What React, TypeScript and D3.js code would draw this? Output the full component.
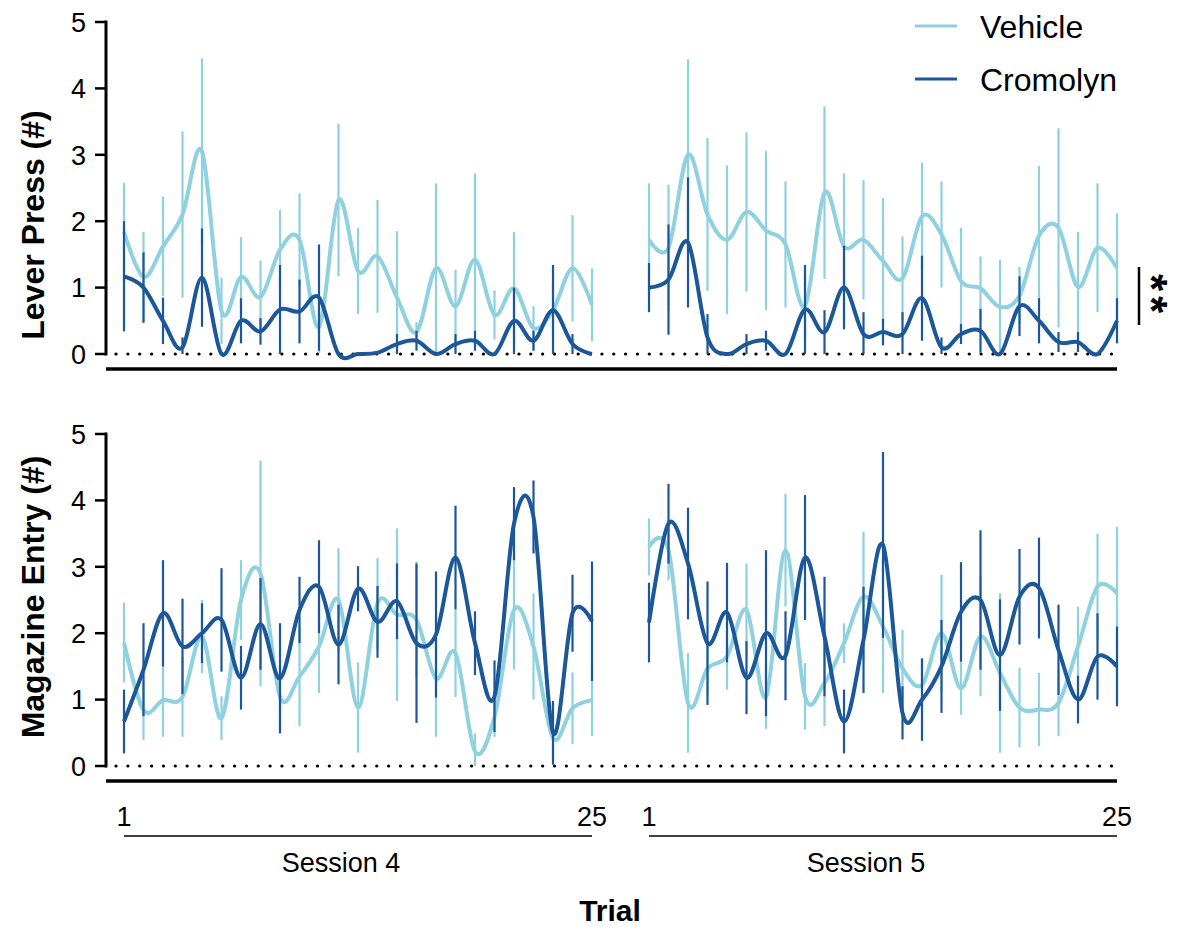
import React from 'react';
import * as d3 from 'd3';

const width = 1180;
const height = 927;

const trials = d3.range(1, 26);
const sessionNames = ['Session 4', 'Session 5'];
const yTicks = [0, 1, 2, 3, 4, 5];
const seriesNames = ['Vehicle', 'Cromolyn'];
const colors = ['#8fd1df', '#1b5799'];

// Lever press, session 4 / session 5 (mean, sem)
const leverVehS4 = [1.84, 1.16, 1.62, 2.1, 3.05, 0.65, 1.16, 0.86, 1.57, 1.72, 0.41, 2.32, 1.25, 1.47, 0.85, 0.33, 1.29, 0.72, 1.42, 0.59, 0.99, 0.39, 0.66, 1.29, 0.74];
const leverVehS4Sem = [0.74, 0.68, 0.75, 1.25, 1.4, 0.5, 0.6, 0.55, 0.6, 0.7, 0.4, 1.15, 0.65, 0.85, 1.0, 0.15, 1.28, 0.55, 1.3, 0.37, 0.85, 0.33, 0.4, 0.8, 0.55];
const leverCroS4 = [1.17, 1.0, 0.5, 0.1, 1.15, 0.0, 0.5, 0.34, 0.67, 0.64, 0.85, 0.0, 0.0, 0.02, 0.15, 0.2, 0.0, 0.15, 0.2, 0.0, 0.5, 0.2, 0.66, 0.15, 0.0];
const leverCroS4Sem = [0.83, 0.53, 0.35, 0.15, 0.74, 0, 0.34, 0.2, 0.67, 0.48, 0.8, 0, 0, 0, 0.15, 0.15, 0, 0.15, 0.15, 0, 0.5, 0.15, 0.68, 0.15, 0];
const leverVehS5 = [1.72, 1.6, 3.0, 2.1, 1.72, 2.14, 1.86, 1.65, 0.72, 2.43, 1.62, 1.72, 1.4, 1.14, 2.07, 1.8, 1.1, 0.99, 0.71, 0.88, 1.78, 1.9, 1.01, 1.6, 1.29];
const leverVehS5Sem = [0.85, 0.95, 1.44, 1.15, 1.12, 1.2, 1.2, 0.95, 0.5, 1.3, 1.1, 0.9, 0.95, 0.63, 0.81, 0.8, 0.8, 0.48, 0.71, 0.43, 1.05, 1.5, 0.83, 0.97, 0.83];
const leverCroS5 = [1.0, 1.12, 1.68, 0.25, 0.0, 0.15, 0.2, 0.0, 0.67, 0.33, 1.0, 0.3, 0.33, 0.3, 0.84, 0.1, 0.3, 0.35, 0.0, 0.72, 0.5, 0.18, 0.18, 0.0, 0.5];
const leverCroS5Sem = [0.37, 0.83, 0.98, 0.35, 0, 0.15, 0.15, 0, 0.67, 0.33, 0.63, 0.33, 0.2, 0.33, 0.64, 0.15, 0.15, 0.33, 0, 0.45, 0.34, 0.15, 0.15, 0, 0.34];

// Magazine entry
const magVehS4 = [1.86, 0.84, 0.99, 1.04, 1.95, 0.72, 2.5, 2.9, 1.04, 1.35, 1.8, 2.5, 0.88, 2.45, 2.28, 2.2, 1.32, 1.7, 0.22, 0.74, 2.35, 1.8, 0.42, 0.87, 0.99];
const magVehS4Sem = [0.6, 0.45, 0.55, 0.6, 0.55, 0.33, 0.6, 1.7, 0.5, 0.75, 0.7, 0.78, 0.68, 0.68, 1.3, 0.88, 0.88, 0.66, 0.27, 0.3, 0.9, 0.8, 0.3, 0.54, 0.54];
const magCroS4 = [0.67, 1.45, 2.3, 1.8, 2.0, 2.2, 1.33, 2.14, 1.32, 2.35, 2.7, 1.83, 2.67, 2.17, 2.48, 1.85, 1.98, 3.14, 1.85, 1.05, 3.65, 3.75, 0.5, 2.3, 2.18];
const magCroS4Sem = [0.48, 0.7, 0.8, 0.72, 0.45, 0.78, 0.48, 0.69, 0.83, 0.5, 0.7, 0.6, 0.34, 0.54, 0.57, 1.2, 0.95, 0.78, 0.48, 0.54, 0.55, 0.55, 0.48, 0.58, 0.9];
const magVehS5 = [3.3, 3.25, 0.95, 1.47, 1.65, 2.35, 1.04, 3.25, 1.05, 1.25, 1.85, 2.55, 2.1, 1.47, 1.22, 2.0, 1.17, 1.95, 1.4, 0.88, 0.85, 0.95, 1.8, 2.7, 2.6];
const magVehS5Sem = [0.43, 0.45, 0.75, 0.4, 0.5, 0.7, 0.48, 0.85, 0.5, 0.65, 0.3, 0.98, 1.0, 0.58, 0.4, 0.88, 0.4, 0.9, 1.2, 0.6, 0.55, 0.5, 0.6, 0.8, 1.0];
const magCroS5 = [2.16, 3.65, 3.05, 1.85, 2.31, 1.33, 2.0, 1.66, 3.14, 1.95, 0.67, 1.9, 3.33, 0.8, 1.0, 1.5, 2.32, 2.5, 1.67, 2.55, 2.68, 1.75, 1.0, 1.65, 1.5];
const magCroS5Sem = [0.6, 0.6, 0.84, 0.93, 0.75, 0.55, 1.25, 0.67, 0.94, 0.9, 0.48, 0.8, 1.4, 0.4, 0.62, 0.7, 0.75, 1.05, 0.84, 0.72, 0.76, 0.68, 0.36, 0.65, 0.6];

const panels = [
  {
    title: 'Lever Press (#)',
    top: 22, bottom: 354, titleY: 225,
    series: [
      [[leverVehS4, leverVehS4Sem], [leverVehS5, leverVehS5Sem]],
      [[leverCroS4, leverCroS4Sem], [leverCroS5, leverCroS5Sem]],
    ],
  },
  {
    title: 'Magazine Entry (#)',
    top: 434, bottom: 766, titleY: 597,
    series: [
      [[magVehS4, magVehS4Sem], [magVehS5, magVehS5Sem]],
      [[magCroS4, magCroS4Sem], [magCroS5, magCroS5Sem]],
    ],
  },
];

const axisX = 106;
const rightX = 1117;
const sessionX = [
  d3.scaleLinear().domain([1, 25]).range([124, 592]),
  d3.scaleLinear().domain([1, 25]).range([649, 1117]),
];
const font = '"Liberation Sans", Arial, sans-serif';

function Panel({ panel }) {
  const y = d3.scaleLinear().domain([0, 5]).range([panel.bottom, panel.top]);
  return (
    <g>
      {/* y axis */}
      <line x1={axisX} x2={axisX} y1={y(5) - 1.5} y2={y(0) + 1.5} stroke="#000" strokeWidth={3} />
      {yTicks.map(t => (
        <g key={t}>
          <line x1={axisX - 11} x2={axisX} y1={y(t)} y2={y(t)} stroke="#000" strokeWidth={2.5} />
          <text x={axisX - 20} y={y(t)} dy="0.36em" textAnchor="end" fontSize={27} fontFamily={font}>{t}</text>
        </g>
      ))}
      <text
        transform={`translate(44,${panel.titleY}) rotate(-90)`}
        textAnchor="middle" fontSize={32} fontWeight="bold" fontFamily={font}
      >{panel.title}</text>
      {/* dotted zero line */}
      <line x1={116} x2={rightX} y1={y(0)} y2={y(0)} stroke="#000" strokeWidth={3.2}
        strokeDasharray="0.1 11.75" strokeLinecap="round" />
      {/* thick baseline */}
      <line x1={axisX} x2={rightX} y1={y(0) + 15} y2={y(0) + 15} stroke="#000" strokeWidth={3.5} />
      {panel.series.map((sessions, si) => (
        <g key={si}>
          {sessions.map(([mean, sem], k) => {
            const x = sessionX[k];
            const line = d3.line<number>()
              .x((_, i) => x(trials[i]))
              .y(d => y(d))
              .curve(d3.curveCardinal.tension(0));
            return (
              <g key={k}>
                {mean.map((m, i) => (
                  <line key={i} x1={x(trials[i])} x2={x(trials[i])}
                    y1={y(Math.max(0, m - sem[i]))} y2={y(m + sem[i])}
                    stroke={colors[si]} strokeWidth={2.2} />
                ))}
                <path d={line(mean) || ''} fill="none" stroke={colors[si]} strokeWidth={4} />
              </g>
            );
          })}
        </g>
      ))}
    </g>
  );
}

export default function App() {
  return (
    <svg width={width} height={height} viewBox={`0 0 ${width} ${height}`}
      style={{ position: 'absolute', left: 0, top: 0, background: '#fff' }}>
      <rect width={width} height={height} fill="#fff" />
      {panels.map(p => <Panel key={p.title} panel={p} />)}

      {/* legend */}
      {seriesNames.map((name, i) => (
        <g key={name}>
          <line x1={915} x2={957} y1={26 + i * 53} y2={26 + i * 53} stroke={colors[i]} strokeWidth={3} />
          <text x={980} y={26 + i * 53} dy="0.36em" fontSize={32} fontFamily={font}>{name}</text>
        </g>
      ))}

      {/* significance */}
      <line x1={1139} x2={1139} y1={267} y2={325} stroke="#000" strokeWidth={2.5} />
      <text transform="translate(1136,296) rotate(90)" textAnchor="middle" fontSize={44}
        letterSpacing={5} fontWeight="bold" fontFamily={font}>**</text>

      {/* trial axis */}
      {sessionX.map((x, k) => (
        <g key={k}>
          <text x={x(1)} y={826} textAnchor="middle" fontSize={27} fontFamily={font}>1</text>
          <text x={x(25)} y={826} textAnchor="middle" fontSize={27} fontFamily={font}>25</text>
          <line x1={x(1)} x2={x(25)} y1={836} y2={836} stroke="#000" strokeWidth={1.5} />
          <text x={(x(1) + x(25)) / 2 - 17} y={872} textAnchor="middle" fontSize={27} fontFamily={font}>
            {sessionNames[k]}
          </text>
        </g>
      ))}
      <text x={610} y={921} textAnchor="middle" fontSize={30} fontWeight="bold" fontFamily={font}>Trial</text>
    </svg>
  );
}
